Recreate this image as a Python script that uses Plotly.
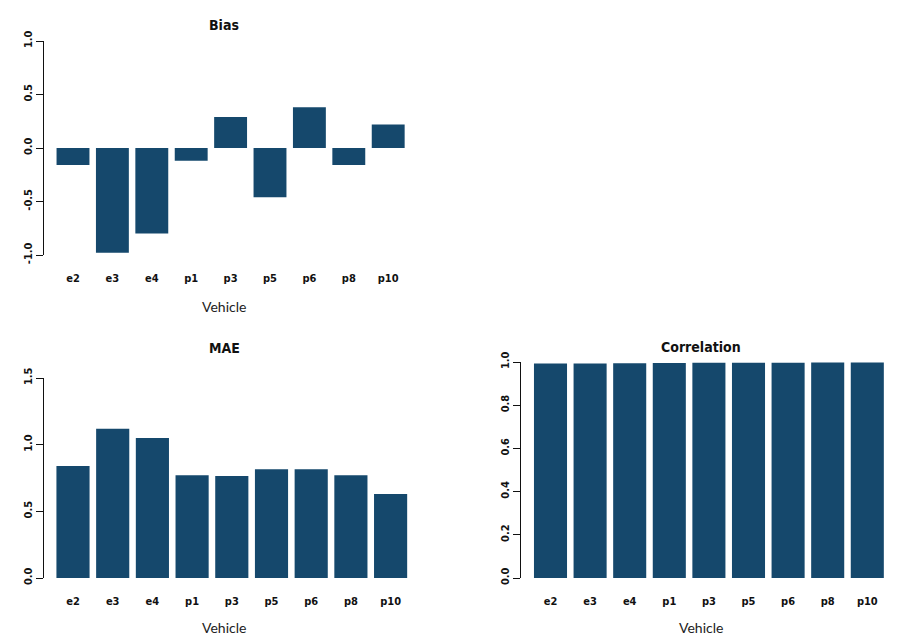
import plotly.graph_objects as go

# vehicles and per-vehicle error metrics
vehicles = ["e2", "e3", "e4", "p1", "p3", "p5", "p6", "p8", "p10"]
bias = [-0.16, -0.98, -0.80, -0.12, 0.29, -0.46, 0.38, -0.16, 0.22]
mae = [0.84, 1.12, 1.05, 0.77, 0.765, 0.815, 0.815, 0.77, 0.63]
correlation = [0.993, 0.993, 0.994, 0.995, 0.997, 0.997, 0.997, 0.998, 0.998]

bias_ticks = [-1.0, -0.5, 0.0, 0.5, 1.0]
mae_ticks = [0.0, 0.5, 1.0, 1.5]
corr_ticks = [0.0, 0.2, 0.4, 0.6, 0.8, 1.0]

BAR = "#15486c"
W, H = 901, 639
OFF = 8  # page body margin, so positions below are screen pixels
COND = "DejaVu Sans Condensed, Liberation Sans Narrow, sans-serif"
TICK_FONT = dict(family=COND, size=11, color="#111", weight="bold")
TITLE_FONT = dict(family=COND, size=14, color="#111", weight="bold")
LAB_FONT = dict(family="Lato, Noto Sans, sans-serif", size=14, color="#222")


def px_x(v):
    return (v - OFF) / W


def px_y(v):
    return 1 - (v - OFF) / H


fig = go.Figure()
panels = [("", bias), ("2", mae), ("3", correlation)]
for suffix, vals in panels:
    fig.add_trace(go.Bar(x=vehicles, y=vals, marker_color=BAR, marker_line_width=0,
                         xaxis="x" + suffix, yaxis="y" + suffix, showlegend=False))


def yaxis(ticks, rng, top, bottom, anchor):
    return dict(domain=[px_y(bottom), px_y(top)], range=rng, anchor=anchor,
                tickvals=ticks, ticktext=["%.1f" % t for t in ticks],
                showline=True, linecolor="#111", linewidth=1, ticks="outside",
                ticklen=7, tickcolor="#111", tickangle=-90, tickfont=TICK_FONT,
                showgrid=False, zeroline=False, fixedrange=True, automargin=False)


def xaxis(left, first_center, pitch, anchor):
    lo = -(first_center - left) / pitch
    right = first_center + 8.5 * pitch
    return dict(domain=[px_x(left), px_x(right)], range=[lo, 8.5], anchor=anchor,
                showline=False, ticks="", showgrid=False, zeroline=False,
                tickfont=TICK_FONT, ticklabelstandoff=15, fixedrange=True,
                automargin=False)


fig.update_layout(
    template="none",
    width=W, height=H,
    margin=dict(l=0, r=0, t=0, b=0),
    paper_bgcolor="white", plot_bgcolor="white",
    bargap=0.165,
    xaxis=xaxis(44, 73.0, 39.4, "y"),
    yaxis=yaxis(bias_ticks, [-1.0, 1.0], 41, 255, "x"),
    xaxis2=xaxis(44, 73.0, 39.7, "y2"),
    yaxis2=yaxis(mae_ticks, [0.0, 1.5], 378, 578, "x2"),
    xaxis3=xaxis(521, 550.5, 39.6, "y3"),
    yaxis3=yaxis(corr_ticks, [0.0, 1.0], 362, 578, "x3"),
)

notes = [
    ("Bias", 224, 25, TITLE_FONT),
    ("MAE", 224, 348, TITLE_FONT),
    ("Correlation", 701, 347, TITLE_FONT),
    ("Vehicle", 224, 306, LAB_FONT),
    ("Vehicle", 224, 627, LAB_FONT),
    ("Vehicle", 701, 627, LAB_FONT),
]
for text, x, y, font in notes:
    fig.add_annotation(text=text, x=px_x(x), y=px_y(y), xref="paper", yref="paper",
                       xanchor="center", yanchor="middle", showarrow=False, font=font)

fig.write_html("out.html")
